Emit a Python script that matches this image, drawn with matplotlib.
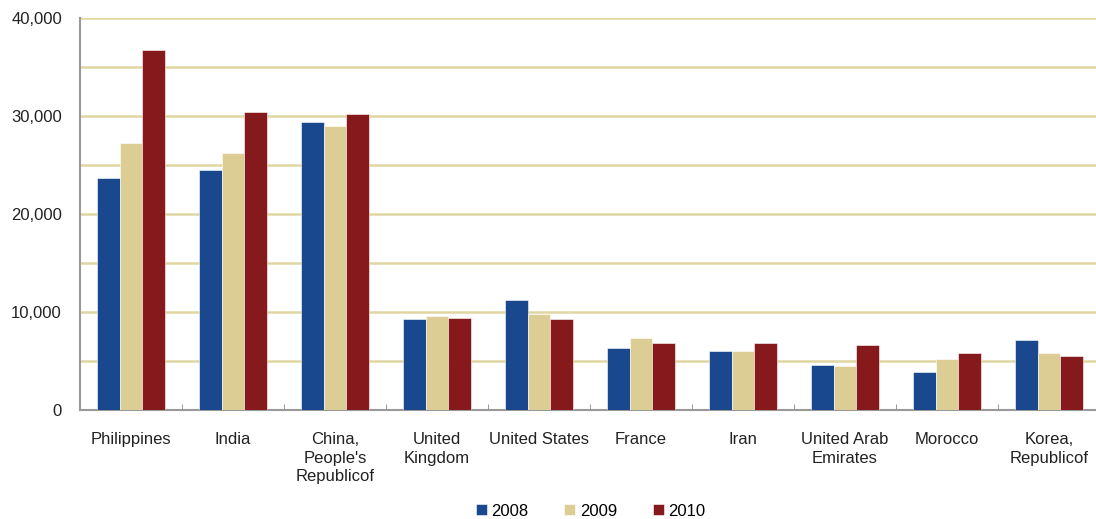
import numpy as np
from matplotlib import pyplot as plt
from matplotlib.ticker import FuncFormatter, MultipleLocator, FixedLocator

plt.rcParams['font.family'] = ['Liberation Sans', 'DejaVu Sans']

countries = ["Philippines", "India", "China,\nPeople's\nRepublicof", "United\nKingdom",
             "United States", "France", "Iran", "United Arab\nEmirates", "Morocco",
             "Korea,\nRepublicof"]
years = ["2008", "2009", "2010"]

v2008 = [23700, 24500, 29400, 9250, 11200, 6350, 6050, 4550, 3900, 7100]
v2009 = [27300, 26200, 29000, 9550, 9750, 7300, 6000, 4500, 5200, 5800]
v2010 = [36700, 30400, 30200, 9400, 9250, 6850, 6850, 6650, 5800, 5500]

colors = ['#19488f', '#dccd95', '#86191b']

fig = plt.figure(figsize=(10.96, 5.19), dpi=100)
ax = fig.add_axes([0.073, 0.21, 0.9307, 0.755])

x = np.arange(len(countries))
w = 0.22
for i, (vals, c, lab) in enumerate(zip([v2008, v2009, v2010], colors, years)):
    ax.bar(x + (i - 1) * w, vals, width=w, color=c, label=lab,
           edgecolor='white', linewidth=0.4, zorder=3)

ax.set_xlim(-0.5, len(countries) - 0.5)
ax.set_ylim(0, 40000)

ax.yaxis.set_major_locator(MultipleLocator(10000))
ax.yaxis.set_minor_locator(MultipleLocator(5000))
ax.yaxis.set_major_formatter(FuncFormatter(lambda v, p: '{:,.0f}'.format(v)))
ax.grid(axis='y', which='both', color='#e0d6a2', linewidth=1.8, zorder=0)
ax.tick_params(axis='y', which='both', length=0, labelsize=12, pad=13, colors='#222222')

ax.set_xticks(x)
ax.set_xticklabels(countries, fontsize=12, linespacing=1.3, color='#222222')
ax.xaxis.set_minor_locator(FixedLocator(x[:-1] + 0.5))
ax.tick_params(axis='x', which='major', length=0, pad=16)
ax.tick_params(axis='x', which='minor', length=4, direction='in', color='#888888')

for s in ['top', 'right']:
    ax.spines[s].set_visible(False)
for s in ['left', 'bottom']:
    ax.spines[s].set_color('#999999')
    ax.spines[s].set_linewidth(1.5)

fig.legend(loc='lower center', bbox_to_anchor=(0.539, -0.028), ncol=3, frameon=False,
           fontsize=12, handlelength=0.65, handleheight=0.65, handletextpad=0.3,
           columnspacing=2.13)

fig.savefig('out.png', dpi=100)
